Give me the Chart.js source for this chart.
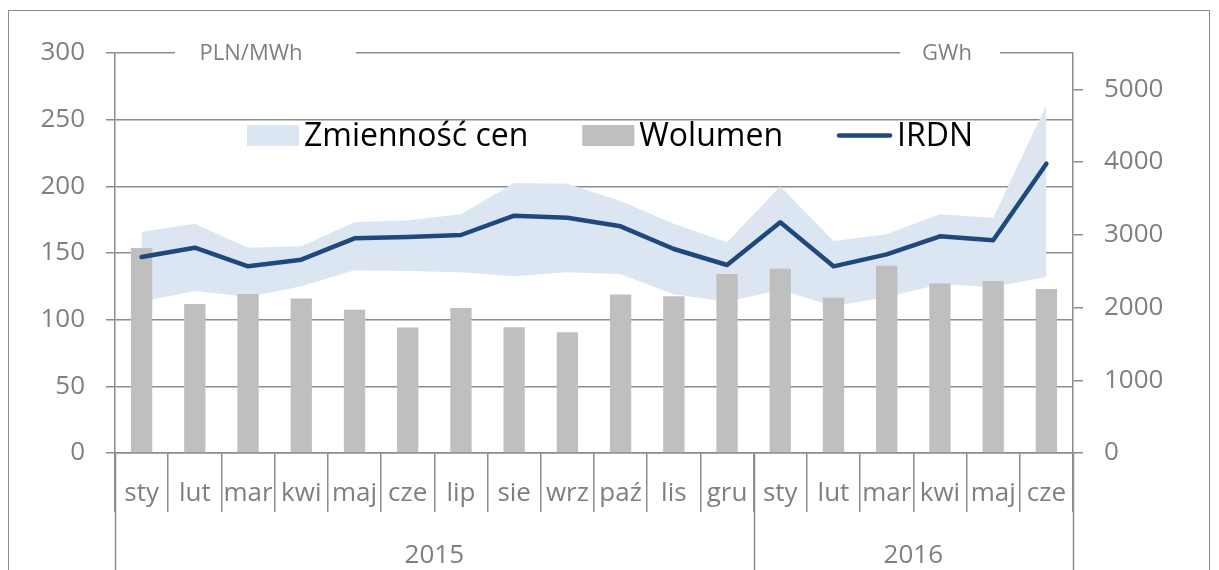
<!DOCTYPE html>
<html lang="pl">
<head>
<meta charset="utf-8">
<title>IRDN - ceny i wolumen</title>
<script src="https://cdn.jsdelivr.net/npm/chart.js@4.4.1/dist/chart.umd.min.js"></script>
<style>
  html, body { margin: 0; padding: 0; background: #fff; }
  #wrap { position: relative; width: 1219px; height: 570px; overflow: hidden; }
  #frame { position: absolute; left: 8px; top: 10px; width: 1200px; height: 640px; border: 1.5px solid #8c8c8c; pointer-events: none; }
  canvas { position: absolute; left: 0; top: 0; }
</style>
</head>
<body>
<div id="wrap">
  <canvas id="wykres" width="1219" height="570"></canvas>
  <div id="frame"></div>
</div>
<script>
/* ===========================
   DANE
=========================== */
const miesiace = ["sty", "lut", "mar", "kwi", "maj", "cze", "lip", "sie", "wrz", "paź", "lis", "gru",
                  "sty", "lut", "mar", "kwi", "maj", "cze"];
const lata = ["2015", "2016"];
const miesiaceWRoku = [12, 6];

// PLN/MWh
const irdn = [147, 154, 140, 145, 161, 162, 163.5, 178, 176.5, 170, 153, 141,
              173, 140, 149, 162.5, 159.5, 217];
const zmiennoscMax = [166, 172, 154, 155, 173, 174.5, 179, 202.5, 202, 189, 172, 158,
                      200, 159, 164, 179, 176.5, 261];
const zmiennoscMin = [113.5, 121.5, 117, 125, 137, 136.5, 135.5, 132.5, 135.5, 134, 119, 113.5,
                      122.5, 110, 117, 126.5, 124.5, 132];
// GWh
const wolumen = [2820, 2050, 2185, 2125, 1970, 1725, 1995, 1730, 1660, 2180, 2155, 2460,
                 2535, 2135, 2575, 2330, 2365, 2255];

// podzialki osi
const cenaTicks = [0, 50, 100, 150, 200, 250, 300];
const wolumenTicks = [0, 1000, 2000, 3000, 4000, 5000];

const SZARY = "#8c8c8c";
const TEKST = "#7f7f7f";
const FONT = "'Open Sans', sans-serif";

/* ===========================
   PLUGINY
=========================== */
// opisy jednostek na gornej linii siatki
const opisyOsi = {
    id: "opisyOsi",
    afterDraw(chart) {
        const ctx = chart.ctx;
        const y = chart.scales.y.getPixelForValue(300);
        ctx.save();
        ctx.font = "22px " + FONT;
        ctx.textAlign = "center";
        ctx.textBaseline = "middle";
        [["PLN/MWh", 175, 356, 251], ["GWh", 900, 1000, 947]].forEach(([t, x1, x2, xt]) => {
            ctx.fillStyle = "#fff";
            ctx.fillRect(x1, y - 3, x2 - x1, 6);
            ctx.fillStyle = TEKST;
            ctx.fillText(t, xt, y + 1);
        });
        ctx.restore();
    }
};

// lata pod miesiacami
const lataOs = {
    id: "lataOs",
    afterDraw(chart) {
        const ctx = chart.ctx;
        const x = chart.scales.x;
        const pol = (x.getPixelForValue(1) - x.getPixelForValue(0)) / 2;
        const brzeg = i => x.getPixelForValue(i) - pol;

        const granice = [0];
        miesiaceWRoku.forEach(n => granice.push(granice[granice.length - 1] + n));

        ctx.save();
        ctx.strokeStyle = SZARY;
        ctx.lineWidth = 1.5;
        granice.forEach(i => {
            const px = Math.round(brzeg(i)) + 0.5;
            ctx.beginPath();
            ctx.moveTo(px, x.top);
            ctx.lineTo(px, chart.height);
            ctx.stroke();
        });
        ctx.fillStyle = TEKST;
        ctx.font = "26px " + FONT;
        ctx.textAlign = "center";
        ctx.textBaseline = "middle";
        lata.forEach((rok, k) => {
            const a = brzeg(granice[k]);
            const b = brzeg(granice[k + 1]);
            ctx.fillText(rok, (a + b) / 2, 556);
        });
        ctx.restore();
    }
};

// legenda wewnatrz obszaru wykresu
const legenda = {
    id: "legenda",
    afterDraw(chart) {
        const ctx = chart.ctx;
        const pozycje = chart.data.datasets.filter(d => d.wLegendzie);
        let x = 247;
        ctx.save();
        ctx.font = "32px " + FONT;
        ctx.textBaseline = "alphabetic";
        pozycje.forEach(d => {
            if (d.type === "line" && d.borderWidth > 0) {
                ctx.strokeStyle = d.borderColor;
                ctx.lineWidth = d.borderWidth;
                ctx.lineCap = "round";
                ctx.beginPath();
                ctx.moveTo(x + 2, 135.5);
                ctx.lineTo(x + 53, 135.5);
                ctx.stroke();
                x += 60;
            } else {
                ctx.fillStyle = d.backgroundColor;
                ctx.fillRect(x, 125, 52, 21);
                x += 57;
            }
            ctx.fillStyle = "#000";
            ctx.fillText(d.label, x, 146);
            x += ctx.measureText(d.label).width + 54;
        });
        ctx.restore();
    }
};

/* ===========================
   WYKRES
=========================== */
new Chart(document.getElementById("wykres"), {
    data: {
        labels: miesiace,
        datasets: [
            {
                type: "line",
                label: "min",
                data: zmiennoscMin,
                yAxisID: "y",
                borderWidth: 0,
                pointRadius: 0,
                fill: false,
                order: 3
            },
            {
                type: "line",
                label: "Zmienność cen",
                data: zmiennoscMax,
                yAxisID: "y",
                borderWidth: 0,
                pointRadius: 0,
                backgroundColor: "#dce6f2",
                fill: "-1",
                order: 2,
                wLegendzie: true
            },
            {
                type: "bar",
                label: "Wolumen",
                data: wolumen,
                yAxisID: "y1",
                backgroundColor: "#bfbfbf",
                barPercentage: 0.4,
                categoryPercentage: 1,
                order: 1,
                wLegendzie: true
            },
            {
                type: "line",
                label: "IRDN",
                data: irdn,
                yAxisID: "y",
                borderColor: "#1f497d",
                borderWidth: 4.5,
                borderJoinStyle: "round",
                borderCapStyle: "round",
                pointRadius: 0,
                fill: false,
                tension: 0,
                order: 0,
                wLegendzie: true
            }
        ]
    },
    options: {
        responsive: false,
        animation: false,
        events: [],
        layout: { padding: { top: 53, left: 0, right: 0, bottom: 0 } },
        plugins: {
            legend: { display: false },
            tooltip: { enabled: false }
        },
        scales: {
            x: {
                type: "category",
                offset: true,
                grid: { offset: true, drawOnChartArea: false, tickLength: 59, color: SZARY, lineWidth: 1.5 },
                border: { color: SZARY, width: 1.5 },
                ticks: { color: TEKST, font: { family: FONT, size: 26 }, padding: -34, maxRotation: 0, autoSkip: false },
                afterFit: s => { s.height = 117; }
            },
            y: {
                position: "left",
                min: 0,
                max: 300,
                grid: { color: SZARY, lineWidth: 1.5, tickLength: 9 },
                border: { color: SZARY, width: 1.5 },
                ticks: { color: TEKST, font: { family: FONT, size: 26 }, padding: 21, callback: v => String(v) },
                afterBuildTicks: s => { s.ticks = cenaTicks.map(v => ({ value: v })); },
                afterFit: s => { s.width = 115; }
            },
            y1: {
                position: "right",
                min: 0,
                max: 5500,
                grid: { drawOnChartArea: false, color: SZARY, lineWidth: 1.5, tickLength: 10 },
                border: { color: SZARY, width: 1.5 },
                ticks: { color: TEKST, font: { family: FONT, size: 26 }, padding: 21, callback: v => String(v) },
                afterBuildTicks: s => { s.ticks = wolumenTicks.map(v => ({ value: v })); },
                afterFit: s => { s.width = 146; }
            }
        }
    },
    plugins: [opisyOsi, lataOs, legenda]
});
</script>
</body>
</html>
